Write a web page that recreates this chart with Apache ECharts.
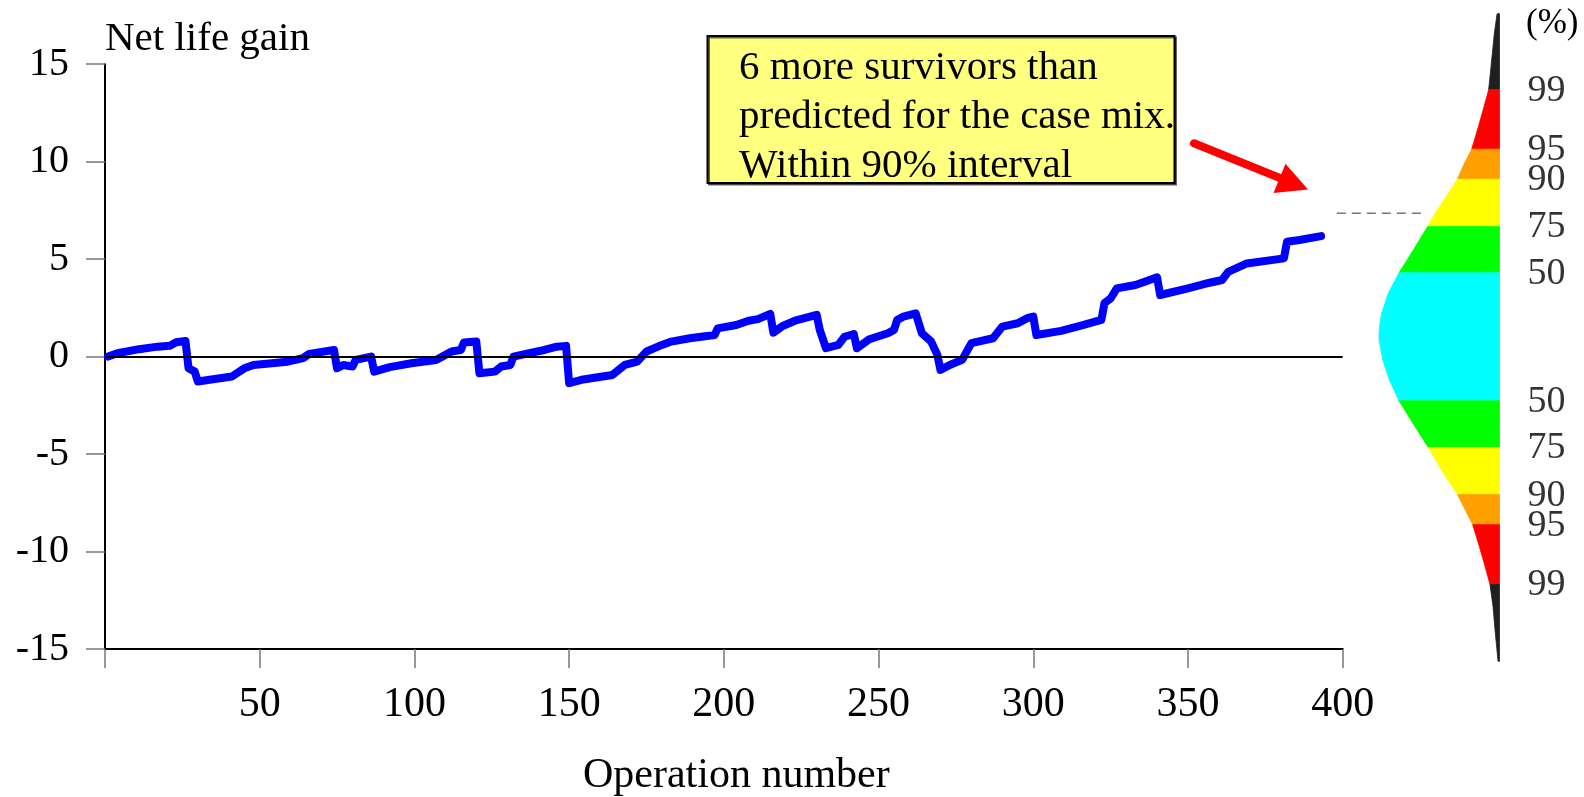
<!DOCTYPE html>
<html><head><meta charset="utf-8">
<script src="https://cdn.jsdelivr.net/npm/echarts@6/dist/echarts.min.js"></script>
<style>html,body{margin:0;padding:0;background:#fff}#c{width:1584px;height:797px}</style>
</head><body><div id="c"></div>
<script>
// ---- data ----
const opNumber = [1,4,11,17,21,23,26,27,29,30,41,45,48,59,64,66,74,75,77,80,81,86,87,92,99,107,109,112,115,116,120,121,126,128,131,132,136,142,146,149,150,154,164,168,172,175,180,183,189,197,198,204,208,211,215,216,219,223,230,231,233,237,239,242,243,247,253,255,256,258,262,264,267,269,270,273,277,280,287,290,295,298,300,301,309,316,322,323,325,327,333,336,340,341,350,357,361,363,369,381,382,386,393];
const netLifeGain = [0.00,0.17,0.38,0.51,0.56,0.74,0.80,-0.60,-0.77,-1.28,-1.02,-0.60,-0.43,-0.26,-0.08,0.14,0.34,-0.60,-0.43,-0.51,-0.17,0.00,-0.77,-0.54,-0.34,-0.17,0.00,0.26,0.34,0.72,0.77,-0.85,-0.77,-0.51,-0.43,0.00,0.14,0.34,0.51,0.55,-1.36,-1.19,-0.94,-0.43,-0.26,0.26,0.60,0.77,0.94,1.11,1.45,1.62,1.84,1.92,2.19,1.23,1.57,1.84,2.14,1.37,0.43,0.60,1.02,1.16,0.43,0.89,1.20,1.37,1.88,2.05,2.22,1.20,0.77,0.09,-0.68,-0.43,-0.17,0.69,0.94,1.54,1.71,1.97,2.05,1.11,1.32,1.62,1.88,2.74,2.99,3.50,3.67,3.84,4.07,3.16,3.50,3.79,3.93,4.35,4.78,5.04,5.89,5.98,6.18];

const xTickValues = [0,50,100,150,200,250,300,350,400];
const xTickLabels = ['','50','100','150','200','250','300','350','400'];
const yTickValues = [-15,-10,-5,0,5,10,15];

// predictive distribution profile (net life gain level, relative density)
const profileValue   = [17.59,16.57,15.54,14.52,13.70,12.81,11.78,10.64,9.91,9.10,8.03,7.35,6.68,5.47,4.30,3.25,2.22,1.73,1.20,0.86,-0.17,-1.19,-2.27,-3.41,-4.66,-5.97,-7.08,-7.85,-8.62,-9.73,-10.76,-11.69,-12.81,-14.17,-15.63];
const profileDensity = [0.02,0.043,0.060,0.076,0.090,0.129,0.176,0.231,0.292,0.350,0.461,0.535,0.596,0.715,0.834,0.923,0.978,0.992,1.0,1.0,0.969,0.915,0.834,0.720,0.591,0.466,0.347,0.286,0.222,0.168,0.120,0.079,0.054,0.035,0.012];

// percentile bands (low, high)
const bandLow  = [13.70,10.64,9.10,6.68,4.30,-2.27,-4.66,-7.08,-8.62,-11.69,-15.63];
const bandHigh = [17.59,13.70,10.64,9.10,6.68,4.30,-2.27,-4.66,-7.08,-8.62,-11.69];

const pctBoundary = [13.70,10.64,9.10,6.68,4.30,-2.27,-4.66,-7.08,-8.62,-11.69];
const pctLabels   = ['99','95','90','75','50','50','75','90','95','99'];

const dashedLevel = 7.35;
const dashedDensity = [1.35, 0.635];

const annotationLines = ['6 more survivors than','predicted for the case mix.','Within 90% interval'];
const yTitle = 'Net life gain';
const xTitle = 'Operation number';
const pctTitle = '(%)';

// ---- styles ----
const FONT = '"Liberation Serif", "Times New Roman", serif';
const bandColors = ['#1f1f1f','#ff0000','#ffa000','#ffff00','#00ff00','#00ffff','#00ff00','#ffff00','#ffa000','#ff0000','#1f1f1f'];

function renderBand(params, api) {
  const lo = api.value(0), hi = api.value(1);
  const pts = [];
  for (let i = 0; i < profileValue.length; i++) {
    const v = profileValue[i];
    if (v <= hi + 1e-9 && v >= lo - 1e-9) pts.push(api.coord([profileDensity[i], v]));
  }
  pts.push(api.coord([0, lo]));
  pts.push(api.coord([0, hi]));
  const c = api.visual('color');
  return { type: 'polygon', shape: { points: pts }, style: { fill: c, stroke: c, lineWidth: 0.8 } };
}

const chart = echarts.init(document.getElementById('c'), null, { renderer: 'canvas' });
chart.setOption({
  animation: false,
  backgroundColor: '#fff',
  grid: [
    { left: 105, right: 241.3, top: 64.2, bottom: 148, outerBoundsMode: 'none', containLabel: false },
    { left: 1336.8, right: 84.5, top: 64.2, bottom: 148, outerBoundsMode: 'none', containLabel: false }
  ],
  xAxis: [
    {
      gridIndex: 0, type: 'value', min: 0, max: 400, interval: 50,
      axisLine: { show: true, onZero: false, lineStyle: { color: '#000', width: 2 } },
      axisTick: { show: true, length: 19, lineStyle: { color: '#777', width: 1.5 } },
      axisLabel: {
        margin: 35, fontSize: 42, fontFamily: FONT, color: '#000',
        formatter: v => { const i = xTickValues.indexOf(v); return i >= 0 ? xTickLabels[i] : ''; }
      },
      splitLine: { show: false },
      name: xTitle, nameLocation: 'middle', nameGap: 106,
      nameTextStyle: { fontSize: 42, fontFamily: FONT, color: '#000', padding: [0, 0, 0, 25] }
    },
    {
      gridIndex: 1, type: 'value', min: 0, max: 1.35, inverse: true, show: false
    }
  ],
  yAxis: [
    {
      gridIndex: 0, type: 'value', min: -15, max: 15, interval: 5,
      axisLine: { show: true, onZero: false, lineStyle: { color: '#000', width: 2 } },
      axisTick: { show: true, length: 19, lineStyle: { color: '#777', width: 1.5 } },
      axisLabel: { margin: 36, fontSize: 40, fontFamily: FONT, color: '#000' },
      splitLine: { show: false },
      name: yTitle, nameLocation: 'end', nameGap: 25,
      nameTextStyle: { fontSize: 41, fontFamily: FONT, color: '#000', align: 'left', verticalAlign: 'middle' }
    },
    {
      gridIndex: 1, type: 'value', min: -15, max: 15, show: false
    }
  ],
  series: [
    {
      type: 'custom', name: 'distribution', coordinateSystem: 'cartesian2d',
      xAxisIndex: 1, yAxisIndex: 1, clip: false, silent: true,
      renderItem: renderBand,
      data: bandLow.map((lo, i) => ({ value: [lo, bandHigh[i]], itemStyle: { color: bandColors[i] } })),
      z: 2
    },
    {
      type: 'line', name: 'reference', xAxisIndex: 1, yAxisIndex: 1, silent: true,
      showSymbol: false, symbol: 'none',
      data: dashedDensity.map(d => [d, dashedLevel]),
      lineStyle: { color: '#777', width: 1.5, type: [9, 6] }, z: 3
    },
    {
      type: 'scatter', name: 'percentiles', xAxisIndex: 1, yAxisIndex: 1, silent: true,
      symbolSize: 0,
      data: pctBoundary.map(v => [0, v]),
      label: {
        show: true, position: 'right', distance: 28, offset: [0, 1],
        fontSize: 38, fontFamily: FONT, color: '#000',
        formatter: p => pctLabels[p.dataIndex]
      }
    },
    {
      type: 'line', name: 'Net life gain', xAxisIndex: 0, yAxisIndex: 0,
      showSymbol: false, symbol: 'none',
      data: opNumber.map((x, i) => [x, netLifeGain[i]]),
      lineStyle: { color: '#0000ff', width: 8, cap: 'round', join: 'round' },
      markLine: {
        silent: true, symbol: ['none', 'none'], label: { show: false },
        lineStyle: { color: '#000', width: 2, type: 'solid' },
        data: [{ yAxis: 0 }]
      },
      z: 4
    }
  ],
  graphic: [
    {
      type: 'rect', z: 10,
      shape: { x: 707.5, y: 36, width: 467, height: 147 },
      style: { fill: '#ffff80', stroke: '#000', lineWidth: 2, shadowColor: 'rgba(0,0,0,0.6)', shadowOffsetX: 1.5, shadowOffsetY: 1.5, shadowBlur: 0 }
    },
    {
      type: 'text', z: 11, x: 739, y: 43.5,
      style: { text: annotationLines.join('\n'), fontSize: 41, fontFamily: FONT, fill: '#000', lineHeight: 49, verticalAlign: 'top', align: 'left' }
    },
    {
      type: 'line', z: 11,
      shape: { x1: 1194, y1: 143.3, x2: 1283, y2: 179.2 },
      style: { stroke: '#ff0000', lineWidth: 8, lineCap: 'round' }
    },
    {
      type: 'polygon', z: 11,
      shape: { points: [[1308, 189.5], [1285.5, 163.8], [1273.5, 193]] },
      style: { fill: '#ff0000' }
    },
    {
      type: 'text', z: 11, x: 1526, y: 24,
      style: { text: pctTitle, fontSize: 35, fontFamily: FONT, fill: '#000', verticalAlign: 'middle', align: 'left' }
    }
  ]
});
</script>
</body></html>
